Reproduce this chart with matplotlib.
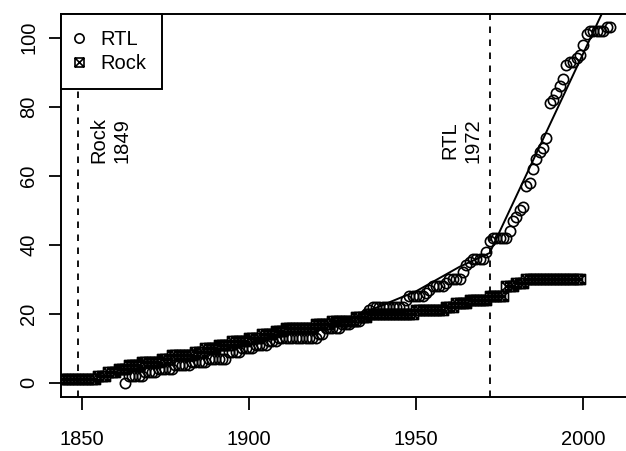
import numpy as np
import matplotlib
matplotlib.use('Agg')
import matplotlib.pyplot as plt
from matplotlib.path import Path

plt.rcParams['font.family'] = ['Liberation Sans', 'DejaVu Sans']

# cumulative counts, stored as (first year, level) steps
rtl_start = [1863, 1864, 1869, 1873, 1878, 1883, 1888, 1894, 1898, 1902,
             1906, 1909, 1921, 1923, 1928, 1931, 1934, 1935, 1936, 1937,
             1947, 1948, 1953, 1954, 1955, 1959, 1960, 1964, 1965, 1966,
             1967, 1971, 1972, 1973, 1978, 1979, 1980, 1981, 1982, 1983,
             1984, 1985, 1986, 1987, 1988, 1989, 1990, 1991, 1992, 1993,
             1994, 1995, 1996, 1998, 1999, 2000, 2001, 2002, 2007]
rtl_level = [0, 2, 3, 4, 5, 6, 7, 9, 10, 11,
             12, 13, 14, 16, 17, 18, 19, 20, 21, 22,
             24, 25, 26, 27, 28, 29, 30, 32, 34, 35,
             36, 38, 41, 42, 44, 47, 48, 50, 51, 57,
             58, 62, 65, 67, 68, 71, 81, 82, 84, 86,
             88, 92, 93, 94, 95, 98, 101, 102, 103]
rtl_last = 2008

rock_start = [1844, 1855, 1858, 1861, 1864, 1868, 1874, 1877, 1884, 1887,
              1891, 1895, 1900, 1904, 1908, 1911, 1920, 1925, 1932, 1936,
              1950, 1959, 1962, 1966, 1972, 1977, 1980, 1983]
rock_level = [1, 2, 3, 4, 5, 6, 7, 8, 9, 10,
              11, 12, 13, 14, 15, 16, 17, 18, 19, 20,
              21, 22, 23, 24, 25, 28, 29, 30]
rock_last = 1999

# segmented trend for RTL, break at 1972
fit_years = [1935, 1950, 1963, 1972, 2008]
fit_vals = [20.5, 26.5, 33.6, 37.6, 112.0]

breaks = [1849, 1972]
break_labels = ["Rock\n1849", "RTL\n1972"]

FS = 14.5


def expand(start, level, last):
    # one value per year from the step table
    runs = np.diff(start + [last + 1])
    return np.arange(start[0], last + 1), np.repeat(level, runs)


rtl_x, rtl_y = expand(rtl_start, rtl_level, rtl_last)
rock_x, rock_y = expand(rock_start, rock_level, rock_last)

# square with a cross in it
box_x = Path([(-1, -1), (1, -1), (1, 1), (-1, 1), (-1, -1),
              (-1, -1), (1, 1), (-1, 1), (1, -1)],
             [Path.MOVETO, Path.LINETO, Path.LINETO, Path.LINETO, Path.CLOSEPOLY,
              Path.MOVETO, Path.LINETO, Path.MOVETO, Path.LINETO])

fig = plt.figure(figsize=(6.26, 4.51), dpi=100)
ax = fig.add_axes([61/626, 54.3/451, 1 - 61/626, 382.7/451])

ax.plot(rtl_x, rtl_y, 'o', ms=7.4, mfc='none', mec='black', mew=1.2,
        label='RTL')
ax.plot(rock_x, rock_y, linestyle='none', marker=box_x, ms=7.2, mfc='none',
        mec='black', mew=1.2, label='Rock')
ax.plot(fit_years, fit_vals, '-', color='black', lw=1.4)

for yr in breaks:
    ax.axvline(yr, color='black', lw=1.3, linestyle=(0, (3.6, 3.6)))

ax.text(1858.5, 70.3, break_labels[0], rotation=90, ha='center', va='center',
        fontsize=FS, linespacing=1.25)
ax.text(1963.5, 70.3, break_labels[1], rotation=90, ha='center', va='center',
        fontsize=FS, linespacing=1.25)

ax.set_xlim(1843.8, 2012.8)
ax.set_ylim(-4.06, 106.9)
ax.set_xticks([1850, 1900, 1950, 2000])
ax.set_yticks([0, 20, 40, 60, 80, 100])
ax.tick_params(labelsize=FS, length=9, width=1.3)
ax.tick_params(axis='x', pad=15)
ax.tick_params(axis='y', pad=7.5)
for lab in ax.get_yticklabels():
    lab.set_rotation(90)
    lab.set_rotation_mode('default')
    lab.set_ha('right')
    lab.set_va('center')
ax.spines['right'].set_visible(False)
for s in ['left', 'top', 'bottom']:
    ax.spines[s].set_linewidth(1.4)

leg = ax.legend(loc='upper left', fontsize=FS, fancybox=False, framealpha=1,
                edgecolor='black', borderaxespad=0, handlelength=0.2,
                handletextpad=0.95, labelspacing=0.25, borderpad=0.8,
                markerscale=0.9)
leg.get_frame().set_linewidth(1.4)

plt.savefig('out.png', dpi=100)
